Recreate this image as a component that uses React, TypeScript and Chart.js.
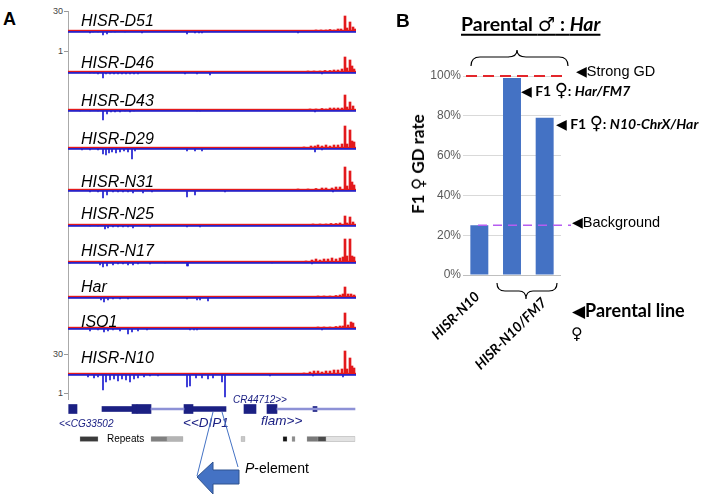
import React, { useEffect, useRef } from "react";
import { Chart, registerables } from "chart.js";
Chart.register(...registerables);

// ---------------- Panel A data (positions along the locus, signal heights) ----------------
const TRACK_NAMES = ["HISR-D51", "HISR-D46", "HISR-D43", "HISR-D29", "HISR-N31", "HISR-N25", "HISR-N17", "Har", "ISO1", "HISR-N10"];

const D51_UP = [[248, 1], [253, 1], [258, 1], [262, 1.5], [266, 1], [270, 2], [273, 2], [277, 15], [279, 3], [282, 9], [285, 4], [287, 2]];
const D46_UP = [[240, 1], [246, 1], [252, 1], [257, 1.5], [262, 1.5], [266, 2], [270, 2], [274, 3], [277, 15], [279, 4], [282, 12], [284, 6], [286, 3]];
const D43_UP = [[242, 1], [248, 1], [254, 1.5], [258, 1], [262, 2], [266, 2], [270, 2], [274, 2], [277, 15], [279, 3], [282, 8], [285, 4]];
const D29_UP = [[236, 1], [243, 2], [247, 2], [250, 3], [254, 2], [258, 3], [262, 2], [266, 3], [270, 3], [274, 4], [277, 22], [279, 4], [282, 18], [284, 7], [286, 6]];
const N31_UP = [[230, 1], [240, 1], [248, 1.5], [254, 2], [258, 2], [264, 2], [268, 3], [272, 3], [277, 23], [279, 4], [282, 19], [284, 8], [286, 5]];
const N25_UP = [[245, 1], [252, 1], [258, 1], [263, 1.5], [268, 1.5], [272, 2], [277, 9], [279, 2], [282, 8], [285, 3]];
const N17_UP = [[238, 1], [244, 2], [248, 3], [252, 2], [256, 3], [260, 3], [264, 4], [268, 3], [272, 4], [275, 5], [277, 23], [279, 6], [282, 23], [284, 6], [286, 5]];
const HAR_UP = [[250, 1], [256, 1], [262, 1], [268, 1.5], [272, 2], [275, 3], [277, 10], [280, 3], [283, 3], [286, 2]];
const ISO1_UP = [[250, 1], [256, 1], [262, 1], [268, 1.5], [272, 2], [275, 2], [277, 15], [280, 3], [283, 6], [285, 5]];
const N10_UP = [[236, 1], [242, 2], [246, 3], [250, 3], [254, 2], [258, 3], [262, 3], [266, 4], [270, 4], [274, 5], [277, 23], [279, 5], [282, 16], [284, 8], [286, 6]];

const D51_DOWN = [[22, 2], [25, 1], [30, 1], [35, 4], [39, 3], [43, 1], [47, 1], [57, 1], [74, 2], [119, 3], [127, 2], [131, 2], [134, 2], [230, 2]];
const D46_DOWN = [[22, 1], [26, 1], [30, 2], [35, 6], [38, 2], [42, 2], [46, 2], [50, 2], [54, 2], [58, 2], [62, 2], [66, 2], [70, 2], [117, 2], [129, 2], [142, 3], [254, 2]];
const D43_DOWN = [[12, 1], [22, 1], [30, 1], [35, 10], [39, 4], [43, 2], [47, 2], [52, 2], [57, 1], [62, 2], [66, 1], [129, 1], [132, 1], [247, 2]];
const D29_DOWN = [[14, 2], [22, 2], [30, 2], [35, 6], [38, 7], [41, 5], [44, 4], [48, 5], [52, 4], [56, 3], [60, 4], [64, 11], [67, 3], [119, 3], [127, 3], [134, 3], [247, 4], [254, 2]];
const N31_DOWN = [[22, 2], [30, 2], [35, 8], [39, 5], [45, 2], [50, 2], [55, 2], [60, 2], [65, 3], [75, 3], [84, 2], [119, 7], [127, 5], [157, 2], [265, 2]];
const N25_DOWN = [[22, 1], [30, 1], [37, 4], [40, 3], [45, 2], [50, 2], [55, 2], [60, 2], [65, 3], [82, 2], [119, 2], [132, 2]];
const N17_DOWN = [[2, 1], [32, 3], [35, 5], [39, 4], [45, 3], [50, 2], [55, 2], [60, 3], [65, 3], [70, 2], [82, 2], [97, 1], [119, 4], [120, 4], [204, 1], [244, 2]];
const HAR_DOWN = [[33, 3], [36, 5], [40, 3], [45, 2], [52, 2], [60, 2], [119, 2], [129, 3], [132, 3], [140, 4]];
const ISO1_DOWN = [[22, 3], [30, 2], [36, 4], [40, 3], [45, 2], [52, 3], [60, 6], [64, 4], [70, 3], [79, 2], [122, 2], [126, 2], [129, 2], [254, 2]];
const N10_DOWN = [[20, 3], [26, 4], [30, 3], [35, 16], [38, 8], [42, 6], [46, 5], [50, 7], [54, 5], [58, 6], [62, 8], [66, 5], [70, 4], [76, 3], [82, 2], [90, 2], [119, 13], [122, 12], [128, 4], [134, 4], [140, 5], [145, 4], [154, 8], [157, 23], [202, 2], [245, 2], [275, 3]];

const TRACK_UP = [D51_UP, D46_UP, D43_UP, D29_UP, N31_UP, N25_UP, N17_UP, HAR_UP, ISO1_UP, N10_UP];
const TRACK_DOWN = [D51_DOWN, D46_DOWN, D43_DOWN, D29_DOWN, N31_DOWN, N25_DOWN, N17_DOWN, HAR_DOWN, ISO1_DOWN, N10_DOWN];

const GENE_EXONS = [[0.7, 9], [64, 69], [69, 83], [116, 125], [176, 188], [199, 209]];
const GENE_UTRS = [[34, 64], [125, 158], [245, 249]];
const GENE_INTRONS = [[83, 116], [209, 287]];
const REPEATS = [[12, 30], [83, 99], [99, 115], [173, 177], [215, 219], [224, 227], [239, 250], [250, 258], [258, 287]];
const REPEAT_SHADES = ["#3a3a3a", "#808080", "#b4b4b4", "#c8c8c8", "#151515", "#8c8c8c", "#7a7a7a", "#4a4a4a", "#e2e2e2"];

// ---------------- Panel B data ----------------
const GD_CATEGORIES = ["HISR-N10", "HISR-N10/FM7 (F1 Har/FM7)", "HISR-N10/FM7 (F1 N10-ChrX/Har)"];
const GD_RATE = [25, 99, 79];
const GD_TICK_STEP = 20;
const STRONG_GD = 100;
const BACKGROUND = 25;

// ---------------- layout ----------------
const TRACK_BASELINES = [31, 72, 110, 148, 190, 225, 262, 297, 328, 374];
const TRACK_LABEL_CY = [21, 62.5, 100.5, 138.5, 182, 214, 251, 287, 321.5, 357.5];
const RED = "#e3191c";
const BLUE = "#1a1ad0";
const NAVY = "#1b2083";
const ARIAL = "'Liberation Sans', Arial, sans-serif";
const LATO = "Lato, 'Liberation Sans', sans-serif";
const SYM = "'DejaVu Sans', sans-serif";

const baselinePlugin = {
  id: "baseline",
  afterDatasetsDraw(chart: any) {
    const { ctx, chartArea, scales } = chart;
    const y0 = scales.y.getPixelForValue(0);
    ctx.save();
    ctx.fillStyle = RED;
    ctx.fillRect(chartArea.left, y0 - 1.2, chartArea.right - chartArea.left, 1.2);
    ctx.fillStyle = "#2a22c8";
    ctx.fillRect(chartArea.left, y0, chartArea.right - chartArea.left, 1.8);
    ctx.restore();
  },
};

const refLinePlugin = {
  id: "refLines",
  afterDatasetsDraw(chart: any) {
    const { ctx, chartArea, scales } = chart;
    const { left, right } = chartArea;
    ctx.save();
    ctx.lineWidth = 2;
    ctx.strokeStyle = "#e3262b";
    ctx.setLineDash([11, 6]);
    const yr = scales.y.getPixelForValue(STRONG_GD);
    ctx.beginPath();
    ctx.moveTo(left + 3, yr);
    ctx.lineTo(right + 7, yr);
    ctx.stroke();
    ctx.lineWidth = 1.6;
    ctx.strokeStyle = "#b65df0";
    ctx.setLineDash([9, 6]);
    const yb = scales.y.getPixelForValue(BACKGROUND);
    ctx.beginPath();
    ctx.moveTo(left + 15, yb);
    ctx.lineTo(right + 10, yb);
    ctx.stroke();
    ctx.restore();
  },
};

function trackConfig(up: number[][], down: number[][]): any {
  return {
    type: "bar",
    data: {
      datasets: [
        { data: up.map(([x, h]) => ({ x, y: h })), backgroundColor: RED, barThickness: 2, grouped: false },
        { data: down.map(([x, d]) => ({ x, y: -d })), backgroundColor: BLUE, barThickness: 1, grouped: false },
      ],
    },
    options: {
      animation: false,
      responsive: false,
      events: [],
      layout: { padding: 0 },
      plugins: { legend: { display: false }, tooltip: { enabled: false } },
      scales: {
        x: { type: "linear", min: 0, max: 288, offset: false, display: false },
        y: { min: -24, max: 24, display: false },
      },
    },
    plugins: [baselinePlugin],
  };
}

function geneConfig(): any {
  const row = (arr: number[][], y: string) => arr.map(([s, e]) => ({ x: [s, e], y }));
  return {
    type: "bar",
    data: {
      labels: ["genes", "repeats"],
      datasets: [
        { data: row(GENE_INTRONS, "genes"), backgroundColor: "#8d91d6", barThickness: 2, grouped: false },
        { data: row(GENE_UTRS, "genes"), backgroundColor: NAVY, barThickness: 5, grouped: false },
        { data: row(GENE_EXONS, "genes"), backgroundColor: NAVY, barThickness: 9, grouped: false },
        { data: row(REPEATS, "repeats"), backgroundColor: REPEAT_SHADES, borderColor: "#9a9a9a", borderWidth: 0.5, borderSkipped: false, barThickness: 5, grouped: false },
      ],
    },
    options: {
      indexAxis: "y",
      animation: false,
      responsive: false,
      events: [],
      layout: { padding: 0 },
      plugins: { legend: { display: false }, tooltip: { enabled: false } },
      scales: {
        x: { type: "linear", min: 0, max: 288, offset: false, display: false },
        y: { type: "category", display: false },
      },
    },
  };
}

function gdConfig(): any {
  return {
    type: "bar",
    data: {
      labels: GD_CATEGORIES,
      datasets: [{ data: GD_RATE, backgroundColor: "#4472c4", barPercentage: 0.55, categoryPercentage: 1 }],
    },
    options: {
      animation: false,
      responsive: false,
      events: [],
      layout: { padding: { left: 0, right: 34, top: 16, bottom: 25 } },
      plugins: { legend: { display: false }, tooltip: { enabled: false } },
      scales: {
        x: { display: false },
        y: {
          min: 0,
          max: 100,
          afterFit: (s: any) => {
            s.width = 68;
          },
          ticks: { stepSize: GD_TICK_STEP, callback: (v: any) => v + "%", color: "#595959", font: { family: ARIAL, size: 12 }, padding: 2 },
          grid: { color: (c: any) => (c.tick && c.tick.value === 0 ? "#bfbfbf" : "#d9d9d9"), drawTicks: false, lineWidth: 1 },
          border: { display: false },
        },
      },
    },
    plugins: [refLinePlugin],
  };
}

const Txt = ({ x, y, children, style }: any) => (
  <div style={{ position: "absolute", left: x, top: y, transform: "translateY(-50%)", whiteSpace: "nowrap", lineHeight: 1, ...style }}>{children}</div>
);

const Rot = ({ x, y, children, style }: any) => (
  <div
    style={{
      position: "absolute",
      left: x,
      top: y,
      transformOrigin: "0 0",
      transform: "rotate(-45deg) translate(-100%, -50%)",
      whiteSpace: "nowrap",
      lineHeight: 1,
      ...style,
    }}
  >
    {children}
  </div>
);

export default function App() {
  const trackRefs = useRef<(HTMLCanvasElement | null)[]>([]);
  const geneRef = useRef<HTMLCanvasElement | null>(null);
  const gdRef = useRef<HTMLCanvasElement | null>(null);

  useEffect(() => {
    const charts: Chart[] = [];
    TRACK_NAMES.forEach((_, i) => {
      const c = trackRefs.current[i];
      if (c) charts.push(new Chart(c, trackConfig(TRACK_UP[i], TRACK_DOWN[i])));
    });
    if (geneRef.current) charts.push(new Chart(geneRef.current, geneConfig()));
    if (gdRef.current) charts.push(new Chart(gdRef.current, gdConfig()));
    return () => charts.forEach((c) => c.destroy());
  }, []);

  const tickLabel = (t: string, y: number) => (
    <React.Fragment key={t + y}>
      <div style={{ position: "absolute", left: 40, width: 23, top: y, transform: "translateY(-50%)", textAlign: "right", fontSize: 9, lineHeight: 1, color: "#444", fontFamily: ARIAL }}>{t}</div>
      <div style={{ position: "absolute", left: 64, top: y, width: 4, height: 1, background: "#999" }} />
    </React.Fragment>
  );

  const tri = (size: number) => <span style={{ fontFamily: SYM, fontSize: size }}>◀</span>;

  return (
    <div style={{ position: "absolute", left: 0, top: 0, width: 724, height: 496, background: "#fff", overflow: "hidden", fontFamily: ARIAL, color: "#000" }}>
      {/* ---------------- Panel A ---------------- */}
      <Txt x={3} y={18.5} style={{ fontWeight: "bold", fontSize: 18 }}>A</Txt>
      <div style={{ position: "absolute", left: 68, top: 11, width: 1, height: 389, background: "#aaa" }} />
      {tickLabel("30", 11)}
      {tickLabel("1", 51)}
      {tickLabel("30", 354)}
      {tickLabel("1", 393)}

      {TRACK_NAMES.map((name, i) => (
        <canvas
          key={name}
          ref={(el) => {
            trackRefs.current[i] = el;
          }}
          width={288}
          height={48}
          style={{ position: "absolute", left: 68, top: TRACK_BASELINES[i] - 24, width: 288, height: 48 }}
        />
      ))}
      {TRACK_NAMES.map((name, i) => (
        <Txt key={"l" + name} x={81} y={TRACK_LABEL_CY[i]} style={{ fontStyle: "italic", fontSize: 16 }}>
          {name}
        </Txt>
      ))}

      <canvas ref={geneRef} width={288} height={60} style={{ position: "absolute", left: 68, top: 394, width: 288, height: 60 }} />
      <Txt x={233} y={400} style={{ fontStyle: "italic", fontSize: 10, color: NAVY }}>CR44712&gt;&gt;</Txt>
      <Txt x={59} y={424} style={{ fontStyle: "italic", fontSize: 10, color: NAVY }}>&lt;&lt;CG33502</Txt>
      <Txt x={183} y={423} style={{ fontStyle: "italic", fontSize: 13.5, color: NAVY }}>&lt;&lt;DIP1</Txt>
      <Txt x={261} y={421} style={{ fontStyle: "italic", fontSize: 13.5, color: NAVY }}>flam&gt;&gt;</Txt>
      <Txt x={107} y={439} style={{ fontSize: 10 }}>Repeats</Txt>

      <svg width={724} height={496} style={{ position: "absolute", left: 0, top: 0 }}>
        <line x1={213} y1={412} x2={197} y2={476} stroke="#4472c4" strokeWidth={1} />
        <line x1={222} y1={412} x2={238} y2={467} stroke="#4472c4" strokeWidth={1} />
        <polygon points="197,477 213,462 213,470 239,470 239,484 213,484 213,494" fill="#4472c4" stroke="#2f528f" strokeWidth={1} />
        <path d="M 471 66 Q 471 57 480 57 L 508 57 Q 517 57 517 50 Q 517 57 526 57 L 559 57 Q 568 57 568 66" fill="none" stroke="#000" strokeWidth={1.2} />
        <path d="M 497 283 Q 497 291 505 291 L 519 291 Q 526 291 526 299 Q 526 291 533 291 L 549 291 Q 557 291 557 283" fill="none" stroke="#000" strokeWidth={1.2} />
      </svg>
      <Txt x={245} y={468} style={{ fontSize: 14 }}>
        <i>P</i>-element
      </Txt>

      {/* ---------------- Panel B ---------------- */}
      <Txt x={396} y={20} style={{ fontWeight: "bold", fontSize: 19 }}>B</Txt>
      <Txt x={461} y={24} style={{ fontWeight: "bold", fontSize: 19.5, fontFamily: LATO, textDecoration: "underline", textDecorationThickness: 1.5, textUnderlineOffset: 3 }}>
        Parental <span style={{ fontFamily: SYM, fontWeight: "normal" }}>♂</span> : <i>Har</i>
      </Txt>

      <canvas ref={gdRef} width={200} height={240} style={{ position: "absolute", left: 395, top: 60, width: 200, height: 240 }} />

      <div
        style={{
          position: "absolute",
          left: 418,
          top: 164,
          transform: "translate(-50%, -50%) rotate(-90deg)",
          whiteSpace: "nowrap",
          lineHeight: 1,
          fontFamily: LATO,
          fontWeight: "bold",
          fontSize: 17,
        }}
      >
        F1 <span style={{ fontFamily: SYM }}>♀</span> GD rate
      </div>

      <Txt x={576} y={71} style={{ fontSize: 14.5 }}>
        {tri(14)}Strong GD
      </Txt>
      <Txt x={521} y={90} style={{ fontSize: 14, fontWeight: "bold", fontFamily: LATO }}>
        {tri(14)} F1 <span style={{ fontFamily: SYM, fontSize: 18 }}>♀</span>: <i>Har/FM7</i>
      </Txt>
      <Txt x={556} y={123} style={{ fontSize: 14, fontWeight: "bold", fontFamily: LATO }}>
        {tri(14)} F1 <span style={{ fontFamily: SYM, fontSize: 18 }}>♀</span>: <i>N10-ChrX/Har</i>
      </Txt>
      <Txt x={572} y={222} style={{ fontSize: 14.5 }}>
        {tri(14)}Background
      </Txt>
      <Txt x={572} y={310} style={{ fontSize: 18, fontWeight: "bold", fontFamily: LATO }}>
        {tri(17)}Parental line
      </Txt>
      <Txt x={571} y={334} style={{ fontSize: 16, fontWeight: "bold", fontFamily: SYM }}>♀</Txt>

      <Rot x={477} y={294} style={{ fontFamily: LATO, fontWeight: "bold", fontStyle: "italic", fontSize: 14 }}>HISR-N10</Rot>
      <Rot x={544} y={300} style={{ fontFamily: LATO, fontWeight: "bold", fontStyle: "italic", fontSize: 14 }}>HISR-N10/FM7</Rot>
    </div>
  );
}
